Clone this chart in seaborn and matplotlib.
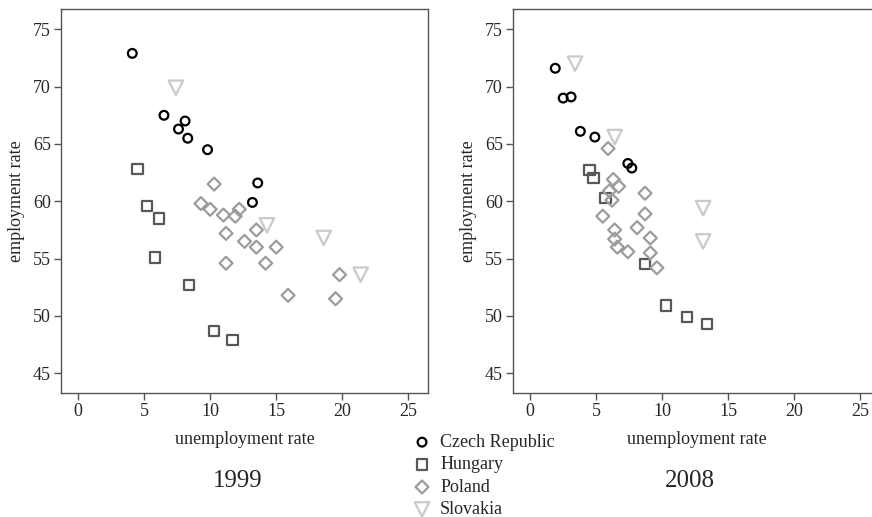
import pandas as pd
import numpy as np
import matplotlib.pyplot as plt
import seaborn as sns

countries = ['Czech Republic', 'Hungary', 'Poland', 'Slovakia']

# 1999: unemployment rate / employment rate by region
cz_u_1999 = [4.1, 6.5, 8.1, 7.6, 8.3, 9.8, 13.6, 13.2]
cz_e_1999 = [72.9, 67.5, 67.0, 66.3, 65.5, 64.5, 61.6, 59.9]
hu_u_1999 = [4.5, 5.2, 6.1, 5.8, 8.4, 10.3, 11.7]
hu_e_1999 = [62.8, 59.6, 58.5, 55.1, 52.7, 48.7, 47.9]
pl_u_1999 = [10.3, 9.3, 10.0, 11.0, 11.9, 12.2, 11.2, 13.5, 12.6, 13.5, 15.0, 11.2, 14.2, 15.9, 19.8, 19.5]
pl_e_1999 = [61.5, 59.8, 59.3, 58.8, 58.7, 59.3, 57.2, 57.5, 56.5, 56.0, 56.0, 54.6, 54.6, 51.8, 53.6, 51.5]
sk_u_1999 = [7.4, 14.3, 18.6, 21.4]
sk_e_1999 = [69.9, 57.9, 56.8, 53.6]

# 2008
cz_u_2008 = [1.9, 2.5, 3.1, 3.8, 4.9, 7.4, 7.7]
cz_e_2008 = [71.6, 69.0, 69.1, 66.1, 65.6, 63.3, 62.9]
hu_u_2008 = [4.5, 4.8, 5.7, 8.7, 10.3, 11.9, 13.4]
hu_e_2008 = [62.7, 62.0, 60.3, 54.5, 50.9, 49.9, 49.3]
pl_u_2008 = [5.9, 6.3, 6.7, 6.0, 6.2, 8.7, 5.5, 8.7, 8.1, 6.4, 6.4, 6.6, 7.4, 9.1, 9.1, 9.6]
pl_e_2008 = [64.6, 61.9, 61.3, 60.9, 60.1, 60.7, 58.7, 58.9, 57.7, 57.5, 56.7, 56.0, 55.6, 56.8, 55.5, 54.2]
sk_u_2008 = [3.4, 6.4, 13.1, 13.1]
sk_e_2008 = [72.0, 65.6, 59.4, 56.5]

def make_df(cz_u, cz_e, hu_u, hu_e, pl_u, pl_e, sk_u, sk_e):
    parts = []
    for name, u, e in zip(countries, [cz_u, hu_u, pl_u, sk_u], [cz_e, hu_e, pl_e, sk_e]):
        parts.append(pd.DataFrame({'country': name, 'unemployment': u, 'employment': e}))
    return pd.concat(parts, ignore_index=True)

df_1999 = make_df(cz_u_1999, cz_e_1999, hu_u_1999, hu_e_1999, pl_u_1999, pl_e_1999, sk_u_1999, sk_e_1999)
df_2008 = make_df(cz_u_2008, cz_e_2008, hu_u_2008, hu_e_2008, pl_u_2008, pl_e_2008, sk_u_2008, sk_e_2008)

colors = {'Czech Republic': '#000000', 'Hungary': '#585858', 'Poland': '#9c9c9c', 'Slovakia': '#cacaca'}
markers = {'Czech Republic': 'o', 'Hungary': 's', 'Poland': 'D', 'Slovakia': 'v'}
sizes = {'Czech Republic': 6.3 ** 2, 'Hungary': 7.4 ** 2, 'Poland': 6.6 ** 2, 'Slovakia': 10.4 ** 2}

sns.set_style('ticks')
plt.rcParams['font.family'] = ['Liberation Serif', 'DejaVu Serif']

fig = plt.figure(figsize=(8.72, 5.17), dpi=100)
ax1 = fig.add_axes([61 / 872, 124 / 517, 367 / 872, 384 / 517])
ax2 = fig.add_axes([513 / 872, 124 / 517, 367 / 872, 384 / 517])

for ax, df in [(ax1, df_1999), (ax2, df_2008)]:
    for c in countries:
        sub = df[df['country'] == c]
        sns.scatterplot(x='unemployment', y='employment', data=sub, ax=ax,
                        marker=markers[c], s=sizes[c], facecolor='none',
                        edgecolor=colors[c], linewidth=1.6, label=c, legend=False)
    ax.set_xlim(-1.3, 26.5)
    ax.set_ylim(43.28, 76.77)
    ax.set_xticks([0, 5, 10, 15, 20, 25])
    ax.set_yticks([45, 50, 55, 60, 65, 70, 75])
    ax.tick_params(labelsize=13, length=5.3, width=1, color='#555555', pad=2)
    for sp in ax.spines.values():
        sp.set_color('#555555')
        sp.set_linewidth(1)
    ax.set_xlabel('unemployment rate', fontsize=13, labelpad=8)
    ax.set_ylabel('employment rate', fontsize=13, labelpad=6)

fig.text(237.7 / 872, 36 / 517, '1999', fontsize=18, ha='center', va='center')
fig.text(690 / 872, 36 / 517, '2008', fontsize=18, ha='center', va='center')

handles, labels = ax1.get_legend_handles_labels()
fig.legend(handles, labels, loc='center left', bbox_to_anchor=(413 / 872, 41 / 517),
           frameon=False, fontsize=13, handlelength=1.0, handletextpad=0.5,
           borderpad=0, borderaxespad=0, labelspacing=0.3)

plt.savefig('out.png', dpi=100)
